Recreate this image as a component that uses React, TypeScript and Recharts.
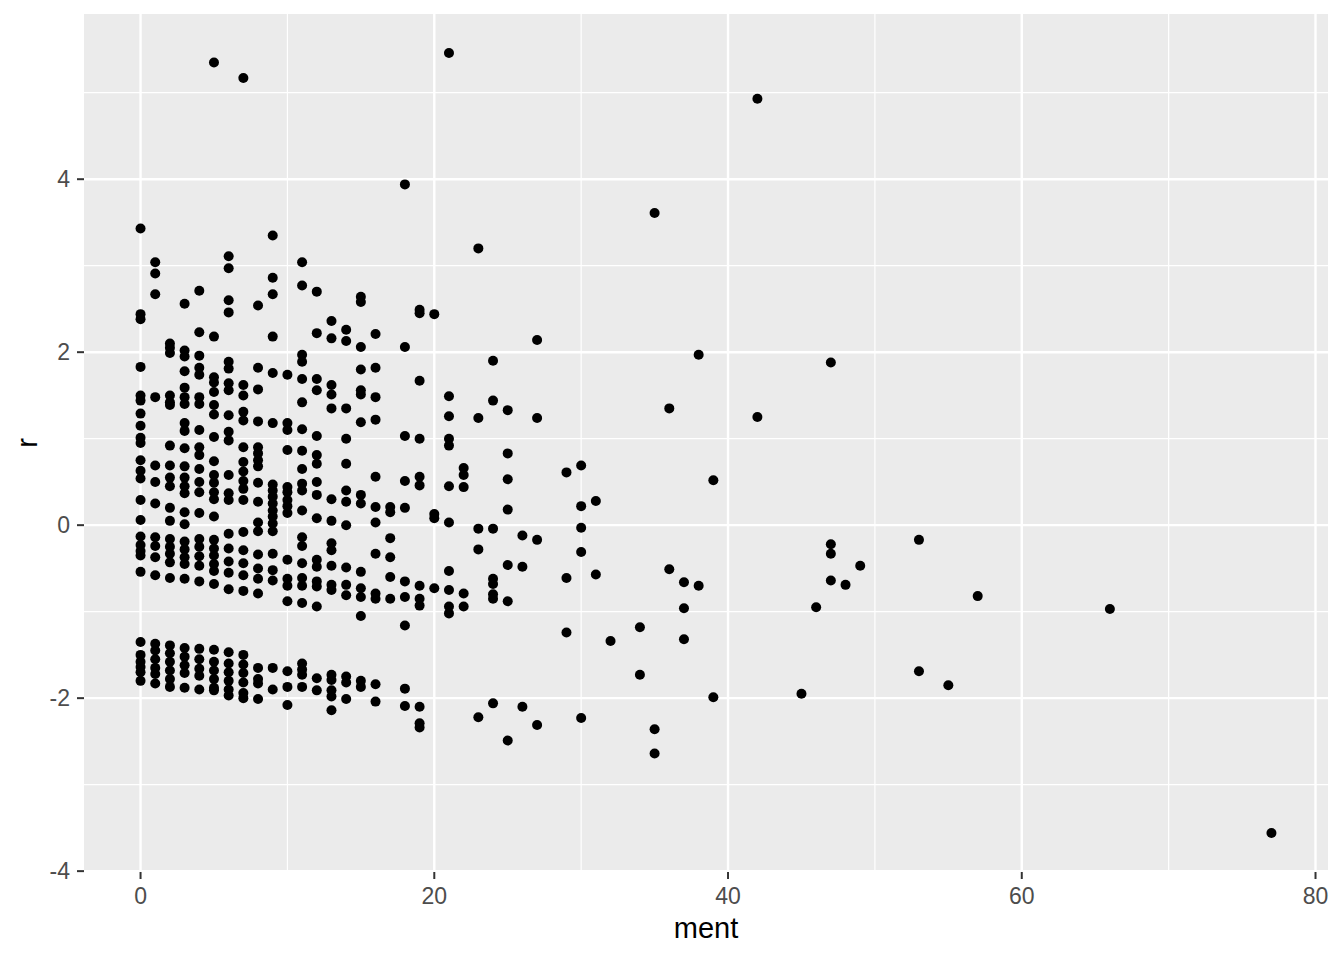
import React from "react";
import {
  ScatterChart,
  Scatter,
  XAxis,
  YAxis,
  CartesianGrid,
  ReferenceLine,
} from "recharts";

// ment value -> residuals r observed at that ment value
const mentColumns: [number, number[]][] = [
  [0, [3.43, 2.44, 2.38, 1.83, 1.5, 1.44, 1.29, 1.15, 1.01, 0.95, 0.75, 0.63, 0.54, 0.29, 0.06, -0.13, -0.23, -0.3, -0.35, -0.54, -1.35, -1.5, -1.58, -1.64, -1.7, -1.8]],
  [1, [3.04, 2.91, 2.67, 1.48, 0.69, 0.5, 0.25, -0.14, -0.24, -0.37, -0.58, -1.37, -1.45, -1.55, -1.65, -1.72, -1.83]],
  [2, [2.1, 2.05, 1.99, 1.5, 1.42, 1.39, 0.92, 0.69, 0.55, 0.45, 0.2, 0.05, -0.16, -0.25, -0.33, -0.43, -0.61, -1.39, -1.48, -1.58, -1.68, -1.78, -1.87]],
  [3, [2.56, 2.02, 1.95, 1.78, 1.59, 1.48, 1.4, 1.18, 1.09, 0.89, 0.68, 0.55, 0.45, 0.37, 0.15, 0.01, -0.19, -0.28, -0.37, -0.45, -0.62, -1.42, -1.52, -1.62, -1.71, -1.88]],
  [4, [2.71, 2.23, 1.96, 1.82, 1.74, 1.48, 1.4, 1.1, 0.9, 0.81, 0.65, 0.5, 0.38, 0.14, -0.16, -0.25, -0.36, -0.47, -0.65, -1.43, -1.55, -1.66, -1.74, -1.9]],
  [5, [5.35, 2.18, 1.71, 1.65, 1.54, 1.39, 1.28, 1.02, 0.74, 0.58, 0.49, 0.38, 0.3, 0.1, -0.17, -0.27, -0.35, -0.45, -0.53, -0.68, -1.44, -1.58, -1.68, -1.78, -1.88, -1.91]],
  [6, [3.11, 2.97, 2.6, 2.46, 1.89, 1.81, 1.64, 1.56, 1.27, 1.08, 0.98, 0.58, 0.37, 0.29, -0.1, -0.27, -0.42, -0.55, -0.74, -1.47, -1.6, -1.7, -1.8, -1.9, -1.97]],
  [7, [5.17, 1.62, 1.5, 1.31, 1.21, 0.9, 0.73, 0.62, 0.51, 0.42, 0.29, -0.08, -0.29, -0.44, -0.58, -0.76, -1.5, -1.61, -1.71, -1.82, -1.94, -2.0]],
  [8, [2.54, 1.82, 1.57, 1.2, 0.9, 0.83, 0.75, 0.68, 0.49, 0.27, 0.03, -0.07, -0.34, -0.5, -0.62, -0.79, -1.65, -1.78, -1.83, -2.01]],
  [9, [3.35, 2.86, 2.67, 2.18, 1.76, 1.18, 0.47, 0.4, 0.33, 0.25, 0.17, 0.1, 0.02, -0.07, -0.33, -0.52, -0.64, -1.65, -1.9]],
  [10, [1.74, 1.18, 1.1, 0.87, 0.44, 0.38, 0.29, 0.22, 0.14, -0.4, -0.62, -0.7, -0.88, -1.69, -1.87, -2.08]],
  [11, [3.04, 2.77, 1.97, 1.89, 1.69, 1.42, 1.11, 0.86, 0.65, 0.48, 0.4, 0.17, -0.14, -0.24, -0.44, -0.61, -0.7, -0.9, -1.6, -1.67, -1.73, -1.87]],
  [12, [2.7, 2.22, 1.69, 1.56, 1.03, 0.81, 0.71, 0.5, 0.35, 0.08, -0.4, -0.48, -0.65, -0.71, -0.94, -1.77, -1.91]],
  [13, [2.36, 2.16, 1.62, 1.51, 1.35, 0.3, 0.05, -0.21, -0.29, -0.47, -0.69, -0.75, -1.73, -1.79, -1.91, -1.98, -2.14]],
  [14, [2.26, 2.13, 1.35, 1.0, 0.71, 0.4, 0.27, 0.0, -0.49, -0.69, -0.81, -1.75, -1.82, -2.01]],
  [15, [2.64, 2.58, 2.06, 1.8, 1.56, 1.51, 1.19, 0.35, 0.25, -0.54, -0.73, -0.83, -1.05, -1.8, -1.87]],
  [16, [2.21, 1.82, 1.48, 1.22, 0.56, 0.21, 0.03, -0.33, -0.79, -0.85, -1.84, -2.04]],
  [17, [0.21, 0.15, -0.15, -0.37, -0.6, -0.85]],
  [18, [3.94, 2.06, 1.03, 0.51, 0.2, -0.65, -0.83, -1.16, -1.89, -2.09]],
  [19, [2.49, 2.45, 1.67, 1.0, 0.56, 0.46, -0.7, -0.85, -0.93, -2.1, -2.29, -2.34]],
  [20, [2.44, 0.13, 0.08, -0.73]],
  [21, [5.46, 1.49, 1.26, 1.0, 0.92, 0.45, 0.03, -0.53, -0.75, -0.94, -1.02]],
  [22, [0.66, 0.58, 0.44, -0.79, -0.94]],
  [23, [3.2, 1.24, -0.04, -0.28, -2.22]],
  [24, [1.9, 1.44, -0.04, -0.62, -0.68, -0.8, -0.85, -2.06]],
  [25, [1.33, 0.83, 0.53, 0.18, -0.46, -0.88, -2.49]],
  [26, [-0.12, -0.48, -2.1]],
  [27, [2.14, 1.24, -0.17, -2.31]],
  [29, [0.61, -0.61, -1.24]],
  [30, [0.69, 0.22, -0.03, -0.31, -2.23]],
  [31, [0.28, -0.57]],
  [32, [-1.34]],
  [34, [-1.18, -1.73]],
  [35, [3.61, -2.36, -2.64]],
  [36, [1.35, -0.51]],
  [37, [-0.66, -0.96, -1.32]],
  [38, [1.97, -0.7]],
  [39, [0.52, -1.99]],
  [42, [4.93, 1.25]],
  [45, [-1.95]],
  [46, [-0.95]],
  [47, [1.88, -0.22, -0.33, -0.64]],
  [48, [-0.69]],
  [49, [-0.47]],
  [53, [-0.17, -1.69]],
  [55, [-1.85]],
  [57, [-0.82]],
  [66, [-0.97]],
  [77, [-3.56]],
];

const xTicks = [0, 20, 40, 60, 80];
const xMinor = [10, 30, 50, 70];
const yTicks = [-4, -2, 0, 2, 4];
const yMinor = [-3, -1, 1, 3, 5];

const points = mentColumns.flatMap(([m, rs]) => rs.map((r) => ({ ment: m, r })));

const FONT = '"Liberation Sans", Arial, Helvetica, sans-serif';

const Dot = (props: any) => (
  <circle cx={props.cx} cy={props.cy} r={5} fill="#000000" />
);

export default function App() {
  return (
    <div style={{ position: "absolute", left: 0, top: 0, width: 1344, height: 960, background: "#fff" }}>
      <ScatterChart
        width={1344}
        height={960}
        margin={{ top: 14, right: 16, left: 0, bottom: 0 }}
        style={{ fontFamily: FONT }}
      >
        <CartesianGrid fill="#EBEBEB" stroke="none" horizontal={false} vertical={false} />
        {xMinor.map((v) => (
          <ReferenceLine key={"xm" + v} x={v} stroke="#FFFFFF" strokeWidth={1.2} />
        ))}
        {yMinor.map((v) => (
          <ReferenceLine key={"ym" + v} y={v} stroke="#FFFFFF" strokeWidth={1.2} />
        ))}
        {xTicks.map((v) => (
          <ReferenceLine key={"xM" + v} x={v} stroke="#FFFFFF" strokeWidth={2.4} />
        ))}
        {yTicks.map((v) => (
          <ReferenceLine key={"yM" + v} y={v} stroke="#FFFFFF" strokeWidth={2.4} />
        ))}
        <XAxis
          type="number"
          dataKey="ment"
          domain={[-3.85, 80.85]}
          ticks={xTicks}
          allowDataOverflow
          height={88}
          axisLine={false}
          tickSize={7}
          tickMargin={9}
          tickLine={{ stroke: "#333333", strokeWidth: 2 }}
          tick={{ fill: "#4D4D4D", fontSize: 23, fontFamily: FONT }}
          label={{
            content: (p: any) => {
              const vb = p.viewBox || { x: 84, y: 872, width: 1244, height: 88 };
              return (
                <text
                  x={vb.x + vb.width / 2}
                  y={vb.y + 66}
                  textAnchor="middle"
                  fill="#000000"
                  fontSize={29}
                  fontFamily={FONT}
                >
                  ment
                </text>
              );
            },
          }}
        />
        <YAxis
          type="number"
          dataKey="r"
          domain={[-4.01, 5.91]}
          ticks={yTicks}
          allowDataOverflow
          width={84}
          axisLine={false}
          tickSize={7}
          tickMargin={7}
          tickLine={{ stroke: "#333333", strokeWidth: 2 }}
          tick={{ fill: "#4D4D4D", fontSize: 23, fontFamily: FONT }}
          label={{
            content: (p: any) => {
              const vb = p.viewBox || { x: 0, y: 14, width: 84, height: 858 };
              const cx = 37;
              const cy = vb.y + vb.height / 2;
              return (
                <text
                  x={cx}
                  y={cy}
                  textAnchor="middle"
                  fill="#000000"
                  fontSize={29}
                  fontFamily={FONT}
                  transform={`rotate(-90 ${cx} ${cy})`}
                >
                  r
                </text>
              );
            },
          }}
        />
        <Scatter data={points} shape={Dot} isAnimationActive={false} />
      </ScatterChart>
    </div>
  );
}
